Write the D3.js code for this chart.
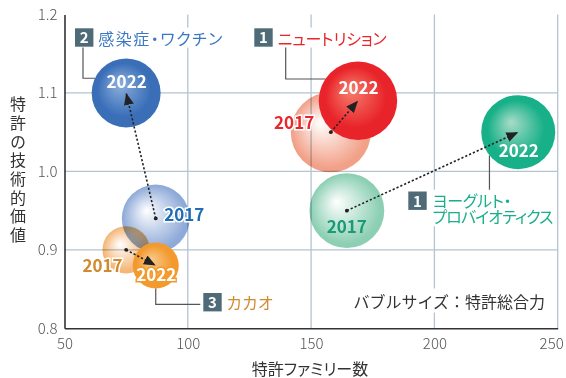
<!DOCTYPE html>
<html>
<head>
<meta charset="utf-8">
<script src="https://cdn.jsdelivr.net/npm/d3@7"></script>
<style>
  html, body { margin: 0; padding: 0; background: #fff; }
  svg { display: block; font-family: "Noto Sans CJK JP", "Noto Sans", sans-serif; }
  .jp { font-feature-settings: "palt"; }
</style>
</head>
<body>
<svg id="chart" width="566" height="378"></svg>
<script>
// Patent portfolio by field: family count (x), technical value (y), total patent strength (bubble size)
const fields      = ["ニュートリション", "感染症・ワクチン", "カカオ", "ヨーグルト・プロバイオティクス"];
const fieldLines  = [["ニュートリション"], ["感染症・ワクチン"], ["カカオ"], ["ヨーグルト・", "プロバイオティクス"]];
const fieldRanks  = ["1", "2", "3", "1"];
const years       = ["2017", "2022"];
const families2017 = [158, 87, 75, 164.5];
const families2022 = [169, 75, 87, 234];
const value2017    = [1.05, 0.94, 0.90, 0.95];
const value2022    = [1.09, 1.10, 0.88, 1.05];
const strength2017 = [1600, 1150, 560, 1400];
const strength2022 = [1540, 1190, 530, 1370];
const xTicks = [50, 100, 150, 200, 250];
const yTicks = [0.8, 0.9, 1.0, 1.1, 1.2];
const xTitle = "特許ファミリー数";
const yTitle = "特許の技術的価値";
const sizeNote = "バブルサイズ：特許総合力";

// colours per field: deep sphere, its highlight, faded sphere edge, label text
const palette = [
  { deep: "#e8242a", hi: "#f6806f", faded: "#f2a088", label: "#e8262c" },
  { deep: "#3a6fb8", hi: "#8fb0de", faded: "#8eaad8", label: "#3b78c4" },
  { deep: "#f39a2e", hi: "#f9c98c", faded: "#f5b575", label: "#d08a30" },
  { deep: "#17b088", hi: "#a8dcc8", faded: "#8ccfb3", label: "#1aae8a" }
];
const label2017Color = ["#e8262c", "#1f6db3", "#d08a30", "#1a9a78"];

const svg = d3.select("#chart");
const x = d3.scaleLinear().domain([50, 250]).range([64.5, 557.7]);
const y = d3.scaleLinear().domain([0.8, 1.2]).range([328.3, 14.5]);
const r = d3.scaleSqrt().domain([0, 1600]).range([0, 40]);

const defs = svg.append("defs");
palette.forEach((p, i) => {
  const g1 = defs.append("radialGradient").attr("id", "deep" + i)
    .attr("cx", "50%").attr("cy", "50%").attr("r", "55%").attr("fx", "40%").attr("fy", "36%");
  g1.append("stop").attr("offset", "0%").attr("stop-color", p.hi);
  g1.append("stop").attr("offset", "70%").attr("stop-color", p.deep);
  g1.append("stop").attr("offset", "100%").attr("stop-color", p.deep);
  const g2 = defs.append("radialGradient").attr("id", "faded" + i)
    .attr("cx", "50%").attr("cy", "50%").attr("r", "55%").attr("fx", "36%").attr("fy", "38%");
  g2.append("stop").attr("offset", "0%").attr("stop-color", "#ffffff");
  g2.append("stop").attr("offset", "85%").attr("stop-color", p.faded);
  g2.append("stop").attr("offset", "100%").attr("stop-color", p.faded);
});
defs.append("marker").attr("id", "head")
  .attr("markerUnits", "userSpaceOnUse").attr("markerWidth", 14).attr("markerHeight", 10)
  .attr("refX", 12).attr("refY", 5).attr("orient", "auto")
  .append("path").attr("d", "M0,0 L12,5 L0,10 Z").attr("fill", "#222");

// grid
const grid = svg.append("g").attr("stroke", "#b4c4d0").attr("stroke-width", 1.3);
grid.selectAll(".vx").data(xTicks.slice(1)).join("line")
  .attr("x1", d => x(d)).attr("x2", d => x(d)).attr("y1", y(1.2)).attr("y2", y(0.8));
grid.selectAll(".hy").data(yTicks.slice(1, -1)).join("line")
  .attr("x1", x(50)).attr("x2", x(250)).attr("y1", d => y(d)).attr("y2", d => y(d));

// axes
const xAxis = svg.append("g").attr("transform", `translate(0,${y(0.8)})`)
  .call(d3.axisBottom(x).tickValues(xTicks).tickSize(0).tickPadding(10));
const yAxis = svg.append("g").attr("transform", `translate(${x(50)},0)`)
  .call(d3.axisLeft(y).tickValues(yTicks).tickSize(0).tickPadding(7).tickFormat(d3.format(".1f")));
[xAxis, yAxis].forEach(a => {
  a.select(".domain").attr("stroke", "#333").attr("stroke-width", 1.6);
  a.selectAll("text").attr("fill", "#555").attr("font-size", 15).attr("font-weight", 300)
    .attr("font-family", "'Noto Sans CJK JP', sans-serif");
});
// keep the last x tick label inside the frame
xAxis.selectAll(".tick").filter(d => d === 250).select("text")
  .attr("text-anchor", "end").attr("dx", 5.5);

svg.append("text").attr("class", "jp").attr("x", 310).attr("y", 374.5)
  .attr("text-anchor", "middle").attr("font-size", 16).attr("fill", "#333").text(xTitle);
svg.append("text").attr("x", 18).attr("y", 171)
  .attr("text-anchor", "middle").attr("font-size", 16).attr("fill", "#333")
  .style("writing-mode", "vertical-rl").attr("letter-spacing", 2.7).text(yTitle);

// bubbles
const idx = d3.range(fields.length);
const pts = idx.map(i => ({
  i,
  x0: x(families2017[i]), y0: y(value2017[i]), r0: r(strength2017[i]),
  x1: x(families2022[i]), y1: y(value2022[i]), r1: r(strength2022[i])
}));
const drawOrder2017 = [1, 2, 0, 3];
svg.append("g").selectAll("circle").data(drawOrder2017.map(i => pts[i])).join("circle")
  .attr("cx", d => d.x0).attr("cy", d => d.y0).attr("r", d => d.r0)
  .attr("fill", d => `url(#faded${d.i})`).style("mix-blend-mode", "multiply");

// text labels for 2017 points
const off2017 = [
  { dx: -16.6, dy: -3, anchor: "end" },
  { dx: 8.5, dy: 2.2, anchor: "start" },
  { dx: -3.5, dy: 22, anchor: "end" },
  { dx: 0, dy: 22.5, anchor: "middle" }
];
svg.append("g").selectAll("text").data(pts).join("text")
  .attr("x", d => d.x0 + off2017[d.i].dx).attr("y", d => d.y0 + off2017[d.i].dy)
  .attr("text-anchor", d => off2017[d.i].anchor)
  .attr("font-size", 17).attr("font-weight", 700)
  .attr("fill", d => label2017Color[d.i])
  .attr("stroke", d => d.i === 3 ? "none" : "#fff").attr("stroke-width", 3).attr("paint-order", "stroke")
  .text(years[0]);

svg.append("g").selectAll("circle").data(pts).join("circle")
  .attr("cx", d => d.x1).attr("cy", d => d.y1).attr("r", d => d.r1)
  .attr("fill", d => `url(#deep${d.i})`);

// arrows 2017 -> 2022
const arrows = svg.append("g");
arrows.selectAll("line").data(pts).join("line")
  .attr("x1", d => d.x0).attr("y1", d => d.y0).attr("x2", d => d.x1).attr("y2", d => d.y1)
  .attr("stroke", "#222").attr("stroke-width", 1.6).attr("stroke-dasharray", "2.2,2")
  .attr("marker-end", "url(#head)");
arrows.selectAll("circle").data(pts).join("circle")
  .attr("cx", d => d.x0).attr("cy", d => d.y0).attr("r", 1.9).attr("fill", "#222");

// 2022 labels on bubbles
const dy2022 = [-6.8, -5, 15.5, 24.5];
svg.append("g").selectAll("text").data(pts).join("text")
  .attr("x", d => d.x1 + 0.5).attr("y", d => d.y1 + dy2022[d.i])
  .attr("text-anchor", "middle").attr("font-size", 17).attr("font-weight", 700)
  .attr("fill", "#fff")
  .attr("stroke", d => d.i === 2 ? palette[2].deep : "none").attr("stroke-width", 3).attr("paint-order", "stroke")
  .text(years[1]);

// field callouts with leader lines
const leaders = svg.append("g").attr("fill", "none").attr("stroke", "#555").attr("stroke-width", 1.2);
function edgeX(p, dy) { return p.x1 - Math.sqrt(p.r1 * p.r1 - dy * dy); }
function edgeYBelow(p, dx) { return p.y1 + Math.sqrt(p.r1 * p.r1 - dx * dx); }
{
  const p = pts[1], ly = p.y1 - 14.7;
  leaders.append("path").attr("d", `M83,47 V${ly} H${edgeX(p, 14.7)}`);
}
{
  const p = pts[0], ly = p.y1 - 21.8;
  leaders.append("path").attr("d", `M285.7,47 V${ly} H${edgeX(p, 21.8)}`);
}
{
  const p = pts[3], lx = p.x1 - 28.8;
  leaders.append("path").attr("d", `M${lx},192 V${edgeYBelow(p, 28.8)}`);
}
{
  const p = pts[2];
  leaders.append("path").attr("d", `M${p.x1},${p.y1 + p.r1} V304.3 H203`);
}

// callout layout: rank box position, first baseline, and the set width of each text line
const callouts = [
  { i: 0, bx: 254.3, by: 28.3, tx: 277.7, ty: 44.5, widths: [109] },
  { i: 1, bx: 75, by: 28.3, tx: 98.3, ty: 44.5, widths: [124] },
  { i: 2, bx: 203.3, by: 293, tx: 226.7, ty: 309, widths: [46] },
  { i: 3, bx: 408.3, by: 191.5, tx: 432.5, ty: 206.7, widths: [79, 121] }
];
callouts.forEach(c => {
  const g = svg.append("g");
  const bg = g.append("rect").attr("fill", "#fff");
  const t = g.append("text").attr("class", "jp")
    .attr("font-size", 16).attr("fill", palette[c.i].label);
  fieldLines[c.i].forEach((ln, k) => t.append("tspan")
    .attr("x", c.tx).attr("y", c.ty + k * 16.6)
    .attr("textLength", c.widths[k]).attr("lengthAdjust", "spacing")
    .text(ln));
  const b = t.node().getBBox();
  bg.attr("x", c.bx - 3).attr("y", b.y + 2).attr("width", b.x + b.width - c.bx + 6).attr("height", b.height - 4);
  g.append("rect").attr("x", c.bx).attr("y", c.by).attr("width", 18.4).attr("height", 18.4).attr("fill", "#4f6b78");
  g.append("text").attr("x", c.bx + 9.2).attr("y", c.by + 15).attr("text-anchor", "middle")
    .attr("font-size", 15).attr("font-weight", 700).attr("fill", "#fff").text(fieldRanks[c.i]);
});

// size note
const note = svg.append("g");
const nt = note.append("text").attr("x", 545).attr("y", 307.5).attr("text-anchor", "end")
  .attr("font-size", 16).attr("fill", "#333").text(sizeNote);
const nb = nt.node().getBBox();
note.insert("rect", "text").attr("x", nb.x - 3).attr("y", nb.y).attr("width", nb.width + 6)
  .attr("height", nb.height).attr("fill", "#fff");
</script>
</body>
</html>
